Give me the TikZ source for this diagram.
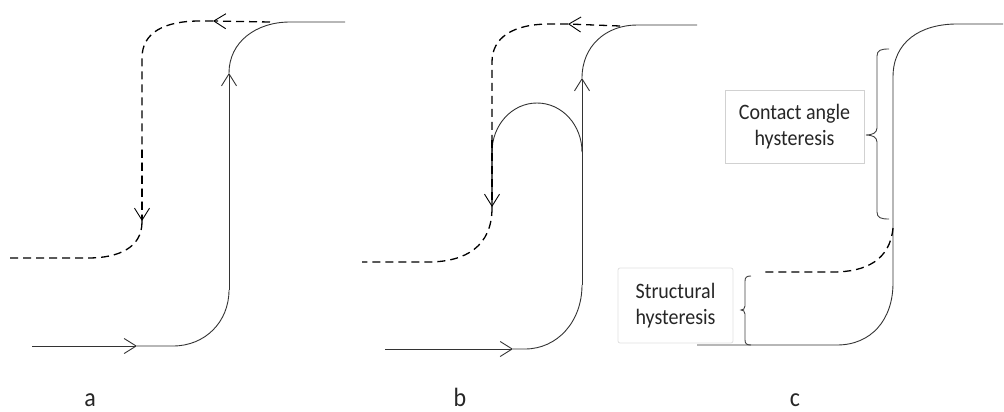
\documentclass[tikz,border=0pt]{standalone}
\usepackage{fontspec}
\setmainfont{Carlito}
\usetikzlibrary{arrows.meta}
\begin{document}
\begin{tikzpicture}[x=1pt,y=-1pt,
  >={Straight Barb[length=12pt,width=15pt,line width=0.9pt]},
  sol/.style={draw=black!80,line width=0.9pt},
  dsh/.style={draw=black,line width=1.3pt,dash pattern=on 8pt off 5pt},
  brc/.style={draw=black!75,line width=0.9pt},
  lbl/.style={font=\fontsize{24}{28}\selectfont,text=black!85,inner sep=0pt,anchor=base,yscale=1.1,transform shape},
  boxtxt/.style={draw=black!18,line width=0.8pt,font=\fontsize{20}{26}\selectfont,text=black!85,align=center,inner sep=0pt}]
\useasboundingbox (0,0) rectangle (1004,412);
% ---------- panel a ----------
\draw[sol,->] (32,346) -- (137,346);
\draw[sol] (137,346) -- (173,346) .. controls (205,346) and (229,322) .. (229,290);
\draw[sol,->] (229,290) -- (229,73);
\draw[sol] (229,73) .. controls (229,42) and (256,22) .. (290,22) -- (345,22);
\draw[dsh,->] (270,22) -- (213,21);
\draw[dsh] (213,21) -- (200,21) .. controls (165,21) and (142,32) .. (142,58) -- (142,222);
\draw[dsh,->] (142,150) -- (142,221);
\draw[dsh] (142,222) .. controls (142,248) and (118,258) .. (88,258) -- (10,258);
% ---------- panel b ----------
\draw[sol,->] (385,349) -- (513,349);
\draw[sol] (513,349) -- (525,349) .. controls (557,349) and (582,322) .. (582,285);
\draw[sol,->] (582,285) -- (582,78);
\draw[sol] (582,78) .. controls (582,46) and (606,25) .. (637,25) -- (697,25);
\draw[sol] (492,158) -- (492,152) .. controls (492,125) and (512,103) .. (537,103)
           .. controls (562,103) and (582,125) .. (582,152);
\draw[dsh,->] (620,26) -- (568,24);
\draw[dsh] (568,24) -- (550,24) .. controls (512,24) and (492,38) .. (492,62) -- (492,208);
\draw[dsh,->] (492,140) -- (492,207);
\draw[dsh] (492,208) .. controls (492,246) and (466,262) .. (428,262) -- (362,262);
% ---------- panel c ----------
\draw[sol] (697,345) -- (837,345) .. controls (871,345) and (893,320) .. (893,283)
           -- (893,77) .. controls (893,42) and (920,24) .. (957,24) -- (1003,24);
\draw[dsh] (893,228) .. controls (890,260) and (866,272) .. (833,272) -- (762,272);
% braces
\draw[brc] (889,49) .. controls (881,49) and (877,50) .. (877,56) -- (877,128)
           .. controls (877,133) and (872,135) .. (866,135)
           .. controls (872,135) and (877,137) .. (877,142) -- (877,212)
           .. controls (877,218) and (881,219) .. (889,219);
\draw[brc] (751,276) .. controls (747,276) and (745,277) .. (745,281) -- (745,306)
           .. controls (745,309) and (743,310) .. (741,310)
           .. controls (743,310) and (745,311) .. (745,314) -- (745,340)
           .. controls (745,344) and (747,345) .. (751,345);
% boxes
\node[boxtxt,minimum width=139pt,minimum height=73pt] (cah) at (794.5,126.5) {\scalebox{1}[1.1]{Contact angle}\\\scalebox{1}[1.1]{hysteresis}};
\node[boxtxt,draw=black!12,rounded corners=2pt,minimum width=115pt,minimum height=75pt] (sh) at (675.5,305.5) {\scalebox{1}[1.1]{Structural}\\\scalebox{1}[1.1]{hysteresis}};
% labels
\node[lbl] (la) at (90,406) {a};
\node[lbl] (lb) at (460,406) {b};
\node[lbl] (lc) at (795,406) {c};
\end{tikzpicture}
\end{document}
